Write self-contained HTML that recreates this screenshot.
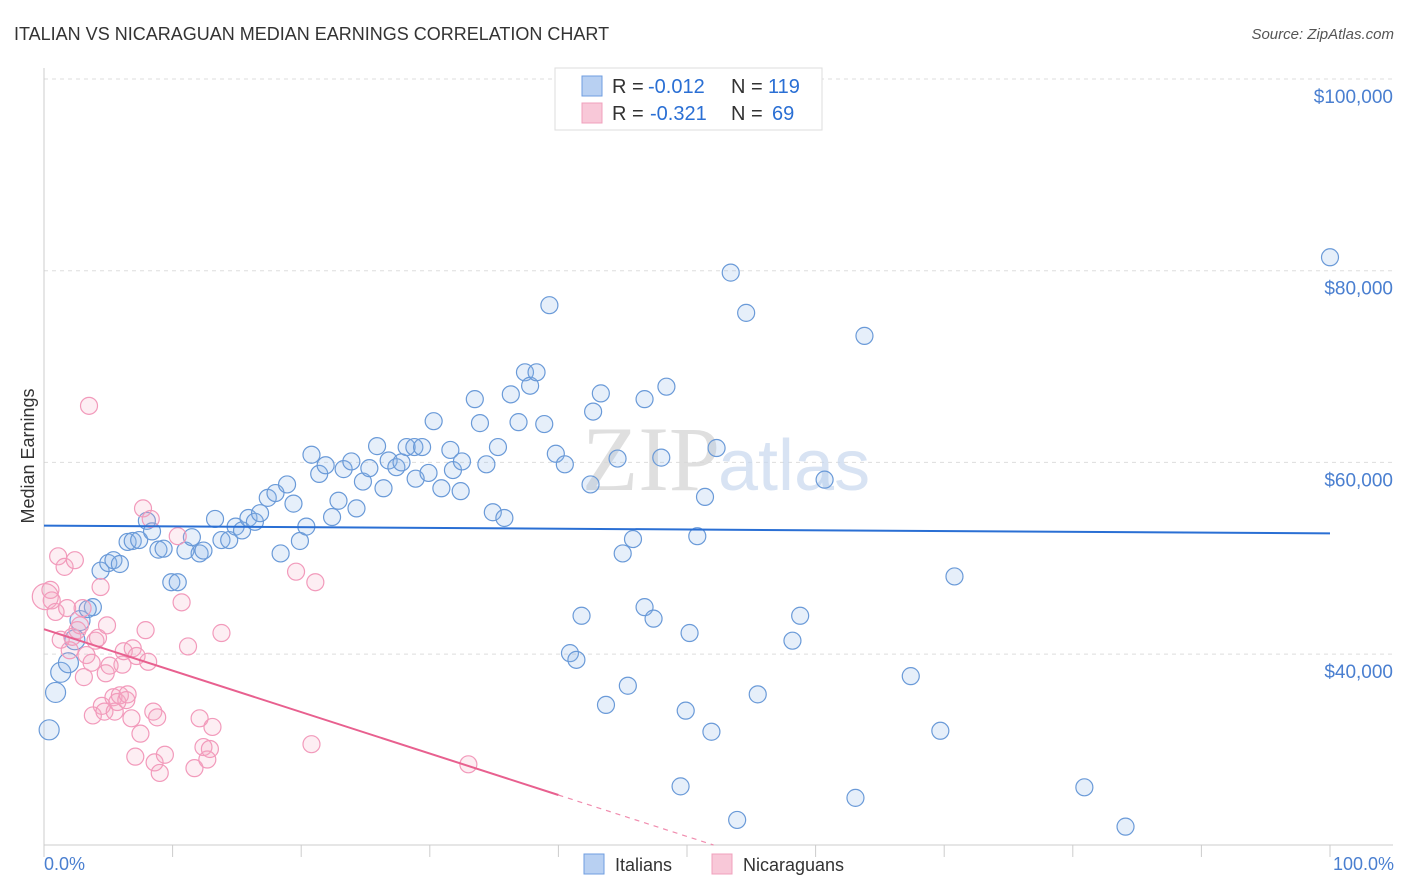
<!DOCTYPE html>
<html><head><meta charset="utf-8"><style>
body{margin:0;background:#fff;font-family:"Liberation Sans",sans-serif;}
#wrap{position:relative;width:1406px;height:892px;overflow:hidden;}
</style></head><body>
<div id="wrap">
<svg id="chart" width="1406" height="892">
<text x="14" y="40" font-size="18" fill="#333">ITALIAN VS NICARAGUAN MEDIAN EARNINGS CORRELATION CHART</text>
<text x="1394" y="39" font-size="15" fill="#555" text-anchor="end" font-style="italic">Source: ZipAtlas.com</text>
<g id="grid"></g>
<text x="720" y="490" font-size="92" fill="#d8d8d8" text-anchor="end" font-family="Liberation Serif" opacity="0.8">ZIP</text>
<text x="718" y="490" font-size="72" fill="#c8d8ee" opacity="0.7">atlas</text>
<g id="marks"></g>
<text x="34" y="456" font-size="18" fill="#333" text-anchor="middle" transform="rotate(-90 34 456)">Median Earnings</text>
<text x="44" y="870" font-size="18" fill="#4a7fd0">0.0%</text>
<text x="1394" y="870" font-size="18" fill="#4a7fd0" text-anchor="end">100.0%</text>
<g font-size="20">
<rect x="555" y="68" width="267" height="62" fill="#fff" stroke="#ddd"/>
<rect x="582" y="76" width="20" height="20" fill="#b8d0f2" stroke="#6f9ee0"/>
<rect x="582" y="103" width="20" height="20" fill="#f8c8d8" stroke="#f0a0bc"/>
<text x="612" y="93" fill="#333">R =</text><text x="648" y="93" fill="#2a6fd4">-0.012</text>
<text x="731" y="93" fill="#333">N =</text><text x="768" y="93" fill="#2a6fd4">119</text>
<text x="612" y="120" fill="#333">R =</text><text x="650" y="120" fill="#2a6fd4">-0.321</text>
<text x="731" y="120" fill="#333">N =</text><text x="772" y="120" fill="#2a6fd4">69</text>
</g>
<g>
<rect x="584" y="854" width="20" height="20" fill="#b8d0f2" stroke="#6f9ee0"/>
<text x="615" y="871" font-size="18" fill="#333">Italians</text>
<rect x="712" y="854" width="20" height="20" fill="#f8c8d8" stroke="#f0a0bc"/>
<text x="743" y="871" font-size="18" fill="#333">Nicaraguans</text>
</g>
</svg>
</div>
<script>
const yTicks=[40,60,80,100];
const yTickLabels=["$40,000","$60,000","$80,000","$100,000"];
const xTicks=[0,10,20,30,40,50,60,70,80,90,100];
const blueX=[.4,.9,1.3,1.9,2.4,2.8,3.8,3.4,4.4,5.0,5.4,5.9,6.5,6.9,7.4,8.0,8.4,8.9,9.3,9.9,10.4,11.0,11.5,12.1,12.4,13.3,13.8,14.4,14.9,15.4,15.9,16.4,16.8,17.4,18.0,18.4,18.9,19.4,19.9,20.4,20.8,21.4,21.9,22.4,22.9,23.3,23.9,24.3,24.8,25.3,25.9,26.4,26.8,27.4,27.8,28.2,28.8,28.9,29.4,29.9,30.3,30.9,31.6,31.8,32.4,32.5,33.5,33.9,34.4,34.9,35.3,35.8,36.3,36.9,37.4,37.8,38.3,38.9,39.3,39.8,40.5,40.9,41.4,41.8,42.5,42.7,43.3,43.7,44.6,45.0,45.4,45.8,46.7,46.7,47.4,48.0,48.4,49.5,49.9,50.2,50.8,51.4,51.9,52.3,53.4,53.9,54.6,55.5,58.2,58.8,60.7,63.1,63.8,67.4,69.7,70.8,80.9,84.1,100];
const blueY=[32.1,36.0,38.1,39.1,41.5,43.5,44.9,44.7,48.7,49.5,49.8,49.4,51.7,51.8,51.9,53.9,52.8,50.9,51.0,47.5,47.5,50.8,52.2,50.5,50.8,54.1,51.9,51.9,53.3,52.9,54.2,53.8,54.7,56.3,56.8,50.5,57.7,55.7,51.8,53.3,60.8,58.8,59.7,54.3,56.0,59.3,60.1,55.2,58.0,59.4,61.7,57.3,60.2,59.5,60.0,61.6,61.6,58.3,61.6,58.9,64.3,57.3,61.3,59.2,57.0,60.1,66.6,64.1,59.8,54.8,61.6,54.2,67.1,64.2,69.4,68.0,69.4,64.0,76.4,60.9,59.8,40.1,39.4,44.0,57.7,65.3,67.2,34.7,60.4,50.5,36.7,52.0,44.9,66.6,43.7,60.5,67.9,26.2,34.1,42.2,52.3,56.4,31.9,61.5,79.8,22.7,75.6,35.8,41.4,44.0,58.2,25.0,73.2,37.7,32.0,48.1,26.1,22.0,81.4];
const pinkX=[.1,.5,.6,.9,1.1,1.3,1.6,1.8,2.0,2.2,2.4,2.6,2.8,3.0,3.1,3.3,3.5,3.7,3.8,4.0,4.2,4.4,4.5,4.7,4.8,4.9,5.1,5.4,5.5,5.7,5.9,6.1,6.2,6.4,6.5,6.8,6.9,7.1,7.2,7.5,7.7,7.9,8.1,8.3,8.5,8.6,8.8,9.0,9.4,10.4,10.7,11.2,11.7,12.1,12.4,12.7,12.9,13.1,13.8,19.6,20.8,21.1,33.0];
const pinkY=[46.0,46.7,45.6,44.4,50.2,41.5,49.1,44.8,40.4,41.8,49.8,42.5,43.0,44.8,37.6,39.9,65.9,39.1,33.6,41.4,41.7,47.0,34.6,34.0,38.0,43.0,38.8,35.5,34.0,35.0,35.7,38.9,40.3,35.2,35.8,33.3,40.6,29.3,39.8,31.7,55.2,42.5,39.2,54.1,34.0,28.7,33.4,27.6,29.5,52.3,45.4,40.8,28.1,33.3,30.3,29.0,30.1,32.4,42.2,48.6,30.6,47.5,28.5];
const blueTrend=[53.4,52.6];
const pinkTrend=[42.6,-0.4325];
const X0=44,X1=1330,YB=845;
function sx(v){return X0+(X1-X0)*v/100;}
function sy(v){return 79+(100-v)*9.585;}
const NS="http://www.w3.org/2000/svg";
function mk(t,a,p){const e=document.createElementNS(NS,t);for(const k in a)e.setAttribute(k,a[k]);p.appendChild(e);return e;}
const grid=document.getElementById('grid'),marks=document.getElementById('marks');
yTicks.forEach((t,i)=>{
 const l=mk('line',{x1:X0,x2:1393,y1:sy(t),y2:sy(t),stroke:'#ddd','stroke-dasharray':'4,4'},grid);
 
 
 const tx=mk('text',{x:1393,y:sy(t)+24,'font-size':19,fill:'#4a7fd0','text-anchor':'end'},grid);
 tx.textContent=yTickLabels[i];
 
 
});
const ax=mk('line',{x1:X0,x2:1393,y1:YB,y2:YB,stroke:'#ccc'},grid);


const ay=mk('line',{x1:X0,x2:X0,y1:68,y2:YB,stroke:'#ccc'},grid);


xTicks.forEach(t=>{
 const l=mk('line',{x1:sx(t),x2:sx(t),y1:YB,y2:YB+12,stroke:'#ccc'},grid);
 
 
});
blueX.forEach((x,i)=>{
 const c=mk('circle',{cx:sx(x),cy:sy(blueY[i]),r:x<3?10:8.5,fill:'rgba(140,180,232,0.22)',stroke:'#6a9ad8','stroke-width':1.2},marks);
 
 
});
pinkX.forEach((x,i)=>{
 const c=mk('circle',{cx:sx(x),cy:sy(pinkY[i]),r:i==0?13:8.5,fill:'rgba(246,170,196,0.2)',stroke:'#f29abb','stroke-width':1.2},marks);
 
 
});
const bl=mk('line',{x1:sx(0),y1:sy(blueTrend[0]),x2:sx(100),y2:sy(blueTrend[1]),stroke:'#2a6fd4','stroke-width':2},marks);


function pv(x){return pinkTrend[0]+pinkTrend[1]*x;}
const pl=mk('line',{x1:sx(0),y1:sy(pv(0)),x2:sx(40),y2:sy(pv(40)),stroke:'#e8608f','stroke-width':2},marks);


const bottomVal=100-(YB-79)/9.585;
const xb=(bottomVal-pinkTrend[0])/pinkTrend[1];
const pd=mk('line',{x1:sx(40),y1:sy(pv(40)),x2:sx(xb),y2:sy(pv(xb)),stroke:'#f08cae','stroke-width':1.2,'stroke-dasharray':'5,5'},marks);


</script>
</body></html>
